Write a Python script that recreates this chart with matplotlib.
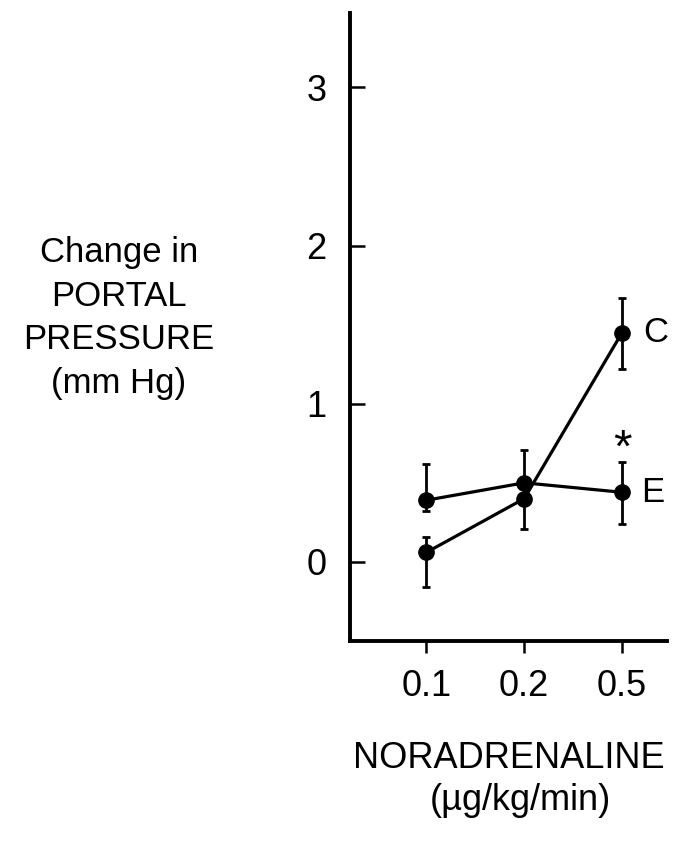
import matplotlib.pyplot as plt
import numpy as np

plt.rcParams["font.family"] = ["Liberation Sans", "DejaVu Sans"]

# noradrenaline doses (categorical axis)
doses = ["0.1", "0.2", "0.5"]

# change in portal pressure (mm Hg), group C
c_mean = [0.06, 0.40, 1.45]
c_err_low = [0.22, 0.19, 0.23]
c_err_high = [0.10, 0.10, 0.22]

# change in portal pressure (mm Hg), group E
e_mean = [0.39, 0.50, 0.44]
e_err_low = [0.07, 0.10, 0.20]
e_err_high = [0.23, 0.21, 0.19]

x = np.arange(len(doses))

fig = plt.figure(figsize=(6.79, 8.48), dpi=100)
ax = fig.add_axes([0.5155, 0.2441, 0.467, 0.7406])

for mean, lo, hi in [(c_mean, c_err_low, c_err_high), (e_mean, e_err_low, e_err_high)]:
    ax.errorbar(x, mean, yerr=[lo, hi], fmt="o-", color="black", markersize=11,
                linewidth=2.3, elinewidth=2.0, capsize=3.2, capthick=2.0)

# series labels and significance mark
ax.text(x[-1] + 0.34, c_mean[-1], "C", fontsize=25, ha="center", va="center")
ax.text(x[-1] + 0.31, e_mean[-1], "E", fontsize=25, ha="center", va="center")
ax.text(x[-1], e_mean[-1] + e_err_high[-1] + 0.08, "*", fontsize=34, ha="center", va="center")

ax.set_xlim(-0.78, 2.46)
ax.set_ylim(-0.5, 3.47)
ax.set_xticks(x)
ax.set_xticklabels(doses)
ax.set_yticks([0, 1, 2, 3])

ax.spines["top"].set_visible(False)
ax.spines["right"].set_visible(False)
ax.spines["left"].set_linewidth(2.8)
ax.spines["bottom"].set_linewidth(2.8)
ax.tick_params(axis="y", direction="in", length=11, width=1.8, pad=17, labelsize=26)
ax.tick_params(axis="x", direction="out", length=8.5, width=1.8, pad=12, labelsize=26)

fig.text(0.175, 0.625, "Change in\nPORTAL\nPRESSURE\n(mm Hg)", fontsize=25,
         ha="center", va="center", linespacing=1.42)
fig.text(0.750, 0.106, "NORADRENALINE", fontsize=26, ha="center", va="center")
fig.text(0.766, 0.0566, "(µg/kg/min)", fontsize=26, ha="center", va="center")

fig.savefig("out.png", dpi=100)
